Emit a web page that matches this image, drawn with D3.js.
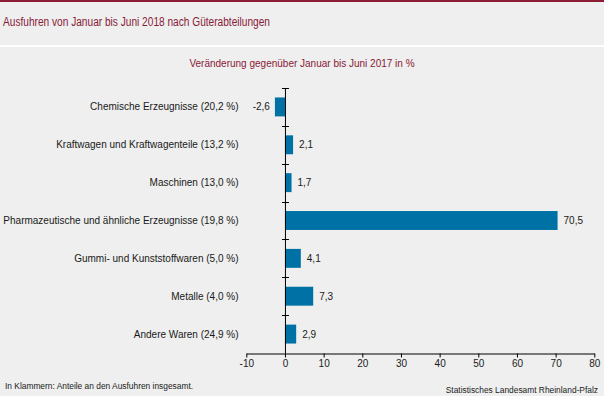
<!DOCTYPE html>
<html><head><meta charset="utf-8">
<script src="https://cdn.jsdelivr.net/npm/d3@7"></script>
<style>
html,body{margin:0;padding:0;background:#eeefee;}
svg{display:block;font-family:"Liberation Sans",Arial,sans-serif;}
</style></head>
<body>
<svg id="c" width="604" height="396"></svg>
<script>
const categories = [
  "Chemische Erzeugnisse (20,2 %)",
  "Kraftwagen und Kraftwagenteile (13,2 %)",
  "Maschinen (13,0 %)",
  "Pharmazeutische und ähnliche Erzeugnisse (19,8 %)",
  "Gummi- und Kunststoffwaren (5,0 %)",
  "Metalle (4,0 %)",
  "Andere Waren (24,9 %)"
];
const values = [-2.6, 2.1, 1.7, 70.5, 4.1, 7.3, 2.9];
const xTicks = [-10, 0, 10, 20, 30, 40, 50, 60, 70, 80];
const title = "Ausfuhren von Januar bis Juni 2018 nach Güterabteilungen";
const subtitle = "Veränderung gegenüber Januar bis Juni 2017 in %";
const footnote = "In Klammern: Anteile an den Ausfuhren insgesamt.";
const source = "Statistisches Landesamt Rheinland-Pfalz";

const svg = d3.select("#c");
const W = 604, H = 396;
const dark = "#8a1a38";

svg.append("rect").attr("width", W).attr("height", H).attr("fill", "#eeefee");
svg.append("rect").attr("width", W).attr("height", 2).attr("fill", "#8c1d35");
svg.append("rect").attr("y", 45).attr("width", W).attr("height", 2).attr("fill", "#ffffff");

svg.append("text").attr("x", 3).attr("y", 26).attr("font-size", 12).attr("fill", dark)
  .attr("textLength", 267).attr("lengthAdjust", "spacingAndGlyphs").text(title);
svg.append("text").attr("x", 302).attr("y", 67).attr("text-anchor", "middle").attr("font-size", 10).attr("fill", dark).text(subtitle);

const x = d3.scaleLinear().domain([-10, 80]).range([246.3, 594.3]);
const y = d3.scaleBand().domain(categories).range([88, 353]).paddingInner(0.5).paddingOuter(0.25);

// bars
svg.selectAll("rect.bar").data(values).enter().append("rect")
  .attr("class", "bar")
  .attr("x", d => x(Math.min(0, d)))
  .attr("width", d => Math.abs(x(d) - x(0)))
  .attr("y", (d, i) => y(categories[i]))
  .attr("height", y.bandwidth())
  .attr("fill", "#0071a4");

const fmt = v => d3.format(".1f")(v).replace(".", ",").replace("\u2212", "-");
svg.selectAll("text.val").data(values).enter().append("text")
  .attr("class", "val")
  .attr("x", d => d < 0 ? x(d) - 5 : x(d) + 6)
  .attr("y", (d, i) => y(categories[i]) + y.bandwidth() / 2 + 3.5)
  .attr("text-anchor", d => d < 0 ? "end" : "start")
  .attr("font-size", 10).attr("fill", "#1a1a1a")
  .text(fmt);

// category labels
svg.selectAll("text.cat").data(categories).enter().append("text")
  .attr("class", "cat")
  .attr("x", 238.5)
  .attr("y", d => y(d) + y.bandwidth() / 2 + 3.5)
  .attr("text-anchor", "end")
  .attr("font-size", 10).attr("fill", "#1a1a1a")
  .text(d => d);

// x axis
const xAxis = d3.axisBottom(x).tickValues(xTicks).tickSize(4).tickSizeOuter(0).tickFormat(d => String(d));
const gx = svg.append("g").attr("transform", "translate(0,353.5)").call(xAxis);
gx.select(".domain").attr("stroke", "#000");
gx.selectAll(".tick line").attr("stroke", "#000");
gx.selectAll(".tick text").attr("font-size", 10).attr("fill", "#1a1a1a").attr("dy", "0.6em")
  .attr("font-family", "Liberation Sans, Arial, sans-serif");

// y axis at zero with ticks crossing
const step = y.step();
const yTickPos = d3.range(categories.length).map(i => 88 + i * step);
svg.append("line").attr("x1", x(0) + 0.5).attr("x2", x(0) + 0.5).attr("y1", 88).attr("y2", 353.5).attr("stroke", "#000");
svg.selectAll("line.yt").data(yTickPos).enter().append("line")
  .attr("class", "yt")
  .attr("x1", x(0) - 3).attr("x2", x(0) + 4)
  .attr("y1", d => Math.round(d) + 0.5).attr("y2", d => Math.round(d) + 0.5)
  .attr("stroke", "#000");

svg.append("text").attr("x", 5).attr("y", 389).attr("font-size", 8.4).attr("fill", "#1a1a1a").text(footnote);
svg.append("text").attr("x", 598).attr("y", 393).attr("text-anchor", "end").attr("font-size", 8.4).attr("fill", "#1a1a1a").text(source);
</script>
</body></html>
